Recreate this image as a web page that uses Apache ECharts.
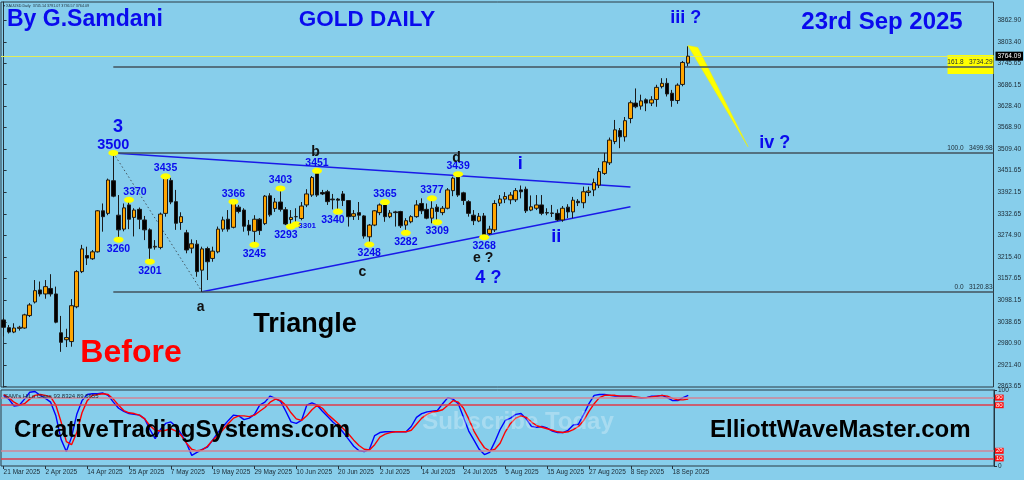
<!DOCTYPE html>
<html><head><meta charset="utf-8">
<script src="https://cdn.jsdelivr.net/npm/echarts@6/dist/echarts.min.js"></script>
<style>html,body{margin:0;padding:0;background:#87ceeb;overflow:hidden}#c{width:1024px;height:480px}</style>
</head><body><div id="c"></div>
<script>
// ---------- DATA ----------
const dates = ["21 Mar 2025","24 Mar 2025","25 Mar 2025","26 Mar 2025","27 Mar 2025","28 Mar 2025","31 Mar 2025",
"1 Apr 2025","2 Apr 2025","3 Apr 2025","4 Apr 2025","7 Apr 2025","8 Apr 2025","9 Apr 2025","10 Apr 2025","11 Apr 2025","14 Apr 2025","15 Apr 2025","16 Apr 2025","17 Apr 2025","21 Apr 2025","22 Apr 2025","23 Apr 2025","24 Apr 2025","25 Apr 2025","28 Apr 2025","29 Apr 2025","30 Apr 2025",
"1 May 2025","2 May 2025","5 May 2025","6 May 2025","7 May 2025","8 May 2025","9 May 2025","12 May 2025","13 May 2025","14 May 2025","15 May 2025","16 May 2025","19 May 2025","20 May 2025","21 May 2025","22 May 2025","23 May 2025","26 May 2025","27 May 2025","28 May 2025","29 May 2025","30 May 2025",
"2 Jun 2025","3 Jun 2025","4 Jun 2025","5 Jun 2025","6 Jun 2025","9 Jun 2025","10 Jun 2025","11 Jun 2025","12 Jun 2025","13 Jun 2025","16 Jun 2025","17 Jun 2025","18 Jun 2025","19 Jun 2025","20 Jun 2025","23 Jun 2025","24 Jun 2025","25 Jun 2025","26 Jun 2025","27 Jun 2025","30 Jun 2025",
"1 Jul 2025","2 Jul 2025","3 Jul 2025","4 Jul 2025","7 Jul 2025","8 Jul 2025","9 Jul 2025","10 Jul 2025","11 Jul 2025","14 Jul 2025","15 Jul 2025","16 Jul 2025","17 Jul 2025","18 Jul 2025","21 Jul 2025","22 Jul 2025","23 Jul 2025","24 Jul 2025","25 Jul 2025","28 Jul 2025","29 Jul 2025","30 Jul 2025","31 Jul 2025",
"1 Aug 2025","4 Aug 2025","5 Aug 2025","6 Aug 2025","7 Aug 2025","8 Aug 2025","11 Aug 2025","12 Aug 2025","13 Aug 2025","14 Aug 2025","15 Aug 2025","18 Aug 2025","19 Aug 2025","20 Aug 2025","21 Aug 2025","22 Aug 2025","25 Aug 2025","26 Aug 2025","27 Aug 2025","28 Aug 2025","29 Aug 2025",
"1 Sep 2025","2 Sep 2025","3 Sep 2025","4 Sep 2025","5 Sep 2025","8 Sep 2025","9 Sep 2025","10 Sep 2025","11 Sep 2025","12 Sep 2025","15 Sep 2025","16 Sep 2025","17 Sep 2025","18 Sep 2025","19 Sep 2025","22 Sep 2025","23 Sep 2025"];

// [open, close, low, high]
const ohlc = [
[3044,3024,2999,3049],[3023,3011,3007,3030],[3011,3022,3008,3035],[3021,3024,3015,3028],[3022,3058,3020,3061],
[3056,3085,3052,3090],[3093,3124,3089,3153],[3126,3115,3108,3149],[3115,3135,3102,3153],[3130,3115,3108,3169],
[3115,3038,3035,3135],[3009,2983,2957,3055],[2990,2996,2970,3020],[2985,3083,2971,3101],[3080,3176,3076,3180],
[3176,3238,3172,3249],[3220,3213,3194,3244],[3211,3230,3208,3235],[3230,3342,3228,3344],[3342,3326,3285,3362],
[3335,3426,3330,3430],[3424,3382,3379,3500],[3330,3290,3262,3385],[3292,3350,3286,3362],[3358,3319,3292,3370],
[3324,3344,3272,3349],[3346,3319,3292,3351],[3317,3290,3262,3328],[3290,3240,3203,3294],[3243,3245,3236,3262],
[3242,3333,3237,3337],[3335,3434,3326,3438],[3425,3366,3360,3432],[3367,3308,3290,3399],[3310,3326,3290,3338],
[3282,3235,3226,3290],[3240,3252,3226,3264],[3251,3176,3162,3262],[3180,3238,3121,3244],[3239,3203,3153,3244],
[3212,3232,3203,3244],[3230,3292,3226,3299],[3292,3317,3285,3326],[3319,3292,3285,3344],[3297,3362,3294,3367],
[3352,3340,3335,3358],[3344,3300,3285,3349],[3303,3288,3275,3317],[3286,3319,3248,3330],[3319,3288,3276,3322],
[3307,3382,3303,3385],[3383,3331,3326,3390],[3348,3366,3339,3377],[3366,3346,3340,3404],[3345,3306,3303,3352],
[3318,3324,3297,3344],[3326,3326,3303,3349],[3321,3355,3316,3366],[3358,3388,3352,3401],[3385,3433,3380,3437],
[3449,3385,3380,3452],[3392,3388,3385,3399],[3394,3367,3358,3399],[3374,3372,3346,3388],[3374,3371,3339,3377],
[3388,3370,3355,3396],[3370,3326,3299,3371],[3327,3334,3317,3344],[3337,3330,3317,3366],[3328,3273,3266,3330],
[3271,3303,3249,3306],[3303,3342,3300,3344],[3337,3358,3330,3362],[3364,3326,3312,3367],[3326,3336,3322,3344],
[3339,3337,3299,3342],[3340,3301,3295,3342],[3303,3315,3282,3322],[3312,3326,3308,3330],[3326,3358,3323,3371],
[3362,3342,3333,3376],[3346,3322,3319,3362],[3322,3349,3308,3377],[3352,3340,3310,3360],[3337,3349,3330,3355],
[3349,3399,3346,3404],[3397,3431,3382,3435],[3437,3385,3380,3442],[3391,3370,3358,3394],[3367,3335,3326,3371],
[3330,3315,3303,3344],[3314,3327,3311,3336],[3328,3276,3268,3336],[3280,3292,3276,3301],[3290,3362,3284,3371],
[3363,3374,3355,3385],[3374,3381,3363,3393],[3372,3385,3360,3393],[3372,3397,3366,3404],[3399,3394,3376,3411],
[3401,3342,3336,3408],[3344,3353,3341,3384],[3349,3358,3344,3385],[3358,3335,3330,3385],[3337,3336,3330,3349],
[3336,3335,3325,3358],[3335,3317,3314,3346],[3317,3349,3312,3355],[3352,3339,3322,3360],[3339,3371,3322,3380],
[3368,3364,3355,3374],[3364,3394,3349,3408],[3392,3396,3382,3408],[3399,3419,3382,3430],[3412,3449,3404,3459],
[3444,3476,3440,3500],[3473,3535,3467,3542],[3531,3563,3524,3590],[3561,3544,3513,3568],[3544,3588,3531,3598],
[3594,3637,3581,3643],[3636,3626,3622,3676],[3628,3642,3618,3659],[3645,3636,3614,3649],[3636,3645,3628,3655],
[3646,3679,3626,3686],[3681,3690,3676,3704],[3690,3661,3654,3704],[3663,3643,3626,3672],[3643,3685,3634,3690],
[3687,3747,3682,3751],[3745.14,3764.09,3736.57,3791.07]];

const hiloFast = [93,88,79,80,88,97,98,93,89,84, 66,35,19,38,68,86,94,95,95,96, 93,84,76,72,69,68,67,62,48,36,
48,56,58,52,42,30,14,18,22,25, 34,44,52,60,67,66,61,63,68,80, 84,92,89,85,72,58,56,60,80,83,
80,72,65,58,52,44,35,26,20,19, 22,40,44,45,45,45,45,45,52,64, 69,71,72,73,82,90,88,82,64,46,
34,22,15,18,32,48,60,63,68,69, 62,52,51,52,50,46,44,44,47,54, 55,68,82,93,94,94,93,92,92,92,
92,90,89,90,92,92,93,90,86,86, 90,93];
const hiloSlow = [94,90,84,80,82,88,93,94,93,91, 80,58,32,28,44,70,86,93,94,95, 94,88,80,73,70,69,67,62,53,47,
46,47,49,46,40,30,22,20,21,26, 34,40,48,56,63,66,66,65,67,72, 77,84,88,86,80,70,62,60,66,74,
80,76,68,62,56,49,42,34,27,22, 21,28,38,42,44,45,45,45,47,55, 63,68,71,72,74,80,86,84,76,62,
46,34,24,20,22,30,45,56,63,66, 64,58,53,51,49,47,45,44,45,48, 52,60,72,82,90,93,93,93,92,92,
92,91,90,90,91,92,93,92,89,87, 87,88];

const priceTicks = [3862.90,3803.40,3745.65,3686.15,3628.40,3568.90,3509.40,3451.65,3392.15,3332.65,
3274.90,3215.40,3157.65,3098.15,3038.65,2980.90,2921.40,2863.65];
const lastPrice = 3764.09;
const fibLevels = [["161.8", 3734.29], ["100.0", 3499.98], ["0.0", 3120.83]];
const fibStartBar = 21;
const oscLevels = [90, 80, 20, 10];
const oscHeader = "SAM's HiLo Class 93.8324 89.5655";

// [text, bar, price, placement]
const priceTags = [
["3500",21,3500,"up"],["3370",24,3372,"upr"],["3260",22,3263,"down"],["3201",28,3203,"down"],
["3435",31,3436,"up"],["3366",44,3367,"up"],["3245",48,3249,"down"],["3403",53,3403,"up"],
["3293",55,3299,"downl"],["3301",56,3305,"right"],["3451",60,3451,"up"],["3340",64,3340,"downl"],
["3365",73,3366,"up"],["3248",70,3250,"down"],["3282",77,3282,"down"],["3377",82,3376,"up"],
["3309",83,3311,"down"],["3439",87,3442,"up"],["3268",92,3270,"down"]];

// [text, bar, price, kind]
const waveLabels = [
["3",21.9,3571,"wave"],["b",59.7,3502,"sub"],["d",86.7,3486,"sub"],["c",68.7,3175,"sub"],["a",37.7,3079,"sub"],
["e ?",91.8,3213,"sub"],["4 ?",92.8,3158,"wave"],["i",98.9,3470,"wave"],["ii",105.8,3270,"wave"],
["iii ?",130.6,3868,"wave"],["iv ?",147.6,3527,"wave"]];

const triangleUpper = [[21,3500],[120,3407]];
const triangleLower = [[38,3120.83],[120,3353]];
const legA = [[21,3500],[38,3120.83]];
const projection = [[131,3793],[132.9,3788],[142.5,3517]];

const texts = {
  header: "\u25BE XAUUSD.Daily  3745.14 3791.07 3736.57 3764.09",
  author: "By G.Samdani", title: "GOLD DAILY", date: "23rd Sep 2025",
  pattern: "Triangle", before: "Before", subscribe: "Subscribe Today",
  site1: "CreativeTradingSystems.com", site2: "ElliottWaveMaster.com"
};

// ---------- CHART ----------
const SLOTS = 190;
const cats = dates.concat(new Array(SLOTS - dates.length).fill(''));
const FONT = '"Liberation Sans", Arial, Helvetica, sans-serif';
const BLUE = '#0a0aee';
const AXIS = '#25343e';
const tagOffset = {up:[0,-8], down:[0,9], upr:[6,-8], downl:[-5,9], right:[11,1]};
const waveStyle = { wave:{color:BLUE, fontSize:18}, sub:{color:'#111', fontSize:14} };

const chart = echarts.init(document.getElementById('c'), null, {renderer:'canvas'});

const fibMark = {
  silent:true, symbol:['none','none'],
  lineStyle:{color:'#42525c', width:1.5, type:'solid'},
  label:{show:true, position:'insideEndTop', distance:1, fontSize:6.5, fontFamily:FONT, color:'#1c2a34',
         formatter: p => p.data && p.data.txt ? p.data.txt : ''},
  data: fibLevels.map(f => [
    {coord:[fibStartBar, f[1]], txt: f[0] + '   ' + f[1].toFixed(2)},
    {coord:[SLOTS - 0.5, f[1]]}
  ])
};

const option = {
  animation:false,
  backgroundColor:'#87ceeb',
  textStyle:{fontFamily:FONT},
  grid:[
    {left:1, right:30, top:2, height:385, show:true, borderColor:'#2a3a44', borderWidth:1},
    {left:1, right:30, top:390, height:76, show:true, borderColor:'#2a3a44', borderWidth:1}
  ],
  xAxis:[
    {type:'category', gridIndex:0, data:cats, boundaryGap:true, axisLine:{show:false}, axisTick:{show:false}, axisLabel:{show:false}},
    {type:'value', gridIndex:0, min:-0.5, max:SLOTS-0.5, show:false},
    {type:'category', gridIndex:1, data:cats, boundaryGap:true,
      axisLine:{show:false},
      axisTick:{show:true, alignWithLabel:true, length:3, lineStyle:{color:AXIS},
        interval:(i)=> i % 8 === 0 && i < dates.length},
      axisLabel:{show:true, align:'left', margin:3, fontSize:6.5, color:'#1c2a34', fontFamily:FONT,
        interval:(i)=> i % 8 === 0 && i < dates.length}}
  ],
  yAxis:[
    {type:'value', gridIndex:0, position:'right', min:2861, max:3912, splitLine:{show:false},
      axisLine:{show:true, lineStyle:{color:AXIS}},
      axisTick:{show:true, length:3, customValues:priceTicks, lineStyle:{color:AXIS}},
      axisLabel:{show:true, customValues:priceTicks, formatter:v=>v.toFixed(2), fontSize:6.5, color:'#1c2a34', margin:4, fontFamily:FONT}},
    {type:'value', gridIndex:1, position:'right', min:0, max:100, splitLine:{show:false},
      axisLine:{show:true, lineStyle:{color:AXIS}},
      axisTick:{show:true, length:3, customValues:[0,100], lineStyle:{color:AXIS}},
      axisLabel:{show:true, customValues:[0,100], fontSize:6.5, color:'#1c2a34', margin:4, fontFamily:FONT}}
  ],
  series:[
    {type:'line', xAxisIndex:1, yAxisIndex:0, data:[], silent:true, z:1,
      markLine:fibMark,
      markArea:{silent:true, itemStyle:{color:'#ffff00', opacity:1},
        data:[[{coord:[180.7, 3767.5]},{coord:[SLOTS-0.5, 3715.5]}]]}},
    {type:'line', xAxisIndex:0, yAxisIndex:0, data:[], silent:true, z:2,
      markLine:{silent:true, symbol:['none','none'], lineStyle:{color:'#e2ec5a', width:1, type:'solid'},
        label:{show:true, position:'end', distance:2, formatter:lastPrice.toFixed(2), backgroundColor:'#000',
               color:'#fff', fontSize:6.5, padding:[1,2], fontFamily:FONT},
        data:[{yAxis:lastPrice}]}},
    {type:'line', xAxisIndex:1, yAxisIndex:0, data:triangleUpper, showSymbol:false, silent:true, z:3,
      lineStyle:{color:'#1a1ae8', width:1.5}},
    {type:'line', xAxisIndex:1, yAxisIndex:0, data:triangleLower, showSymbol:false, silent:true, z:3,
      lineStyle:{color:'#1a1ae8', width:1.5}},
    {type:'line', xAxisIndex:1, yAxisIndex:0, data:legA, showSymbol:false, silent:true, z:3,
      lineStyle:{color:'#44545e', width:1, type:[1.5,2.5]}},
    {type:'custom', xAxisIndex:1, yAxisIndex:0, silent:true, z:4, data:[projection[0]],
      renderItem:(params, api)=>({type:'polygon', shape:{points:projection.map(p=>api.coord(p))},
        style:{fill:'#ffff00', stroke:'#f0f000', lineWidth:0.5}})},
    {type:'candlestick', xAxisIndex:0, yAxisIndex:0, data:ohlc, barWidth:4, z:5,
      itemStyle:{color:'#ffa500', color0:'#000000', borderColor:'#1a1a1a', borderColor0:'#1a1a1a', borderWidth:1}},
    {type:'scatter', xAxisIndex:1, yAxisIndex:0, z:6, symbol:'circle', symbolSize:[10,6], silent:true,
      itemStyle:{color:'#ffff00', opacity:1},
      data: priceTags.map(t=>({value:[t[1],t[2]],
        label:{show:true, position:'inside', offset:tagOffset[t[3]], formatter:t[0], opacity:1,
          fontSize: t[0]==='3500'?14.5:(t[3]==='right'?8:10.5), fontWeight:'bold', color:BLUE, fontFamily:FONT}}))},
    {type:'scatter', xAxisIndex:1, yAxisIndex:0, z:6, symbolSize:1, silent:true,
      itemStyle:{color:'rgba(0,0,0,0)', opacity:1},
      data: waveLabels.map(w=>({value:[w[1],w[2]],
        label:{show:true, position:'inside', formatter:w[0], fontWeight:'bold', fontFamily:FONT, opacity:1,
          color:waveStyle[w[3]].color, fontSize:waveStyle[w[3]].fontSize}}))},
    {type:'line', xAxisIndex:2, yAxisIndex:1, data:hiloFast, showSymbol:false, silent:true, z:3,
      lineStyle:{color:'#0000ff', width:1.4},
      markLine:{silent:true, symbol:['none','none'],
        data: oscLevels.map(v=>({yAxis:v, lineStyle:{color:(v===90||v===20)?'#d08496':'#e03a48', width:1.5, type:'solid'}})),
        label:{show:true, position:'end', distance:1, fontSize:6, color:'#ffffff', backgroundColor:'#ff1010',
          padding:[0,1], fontFamily:FONT, formatter:p=>String(p.value)}}},
    {type:'line', xAxisIndex:2, yAxisIndex:1, data:hiloSlow, showSymbol:false, silent:true, z:3,
      lineStyle:{color:'#ff0000', width:1.4}}
  ],
  graphic:[
    {type:'text', x:3, y:6, z:10, style:{text:texts.header, font:'3.7px '+FONT, fill:'#1c2a34', textVerticalAlign:'middle'}},
    {type:'text', x:7, y:20, z:10, style:{text:texts.author, font:'bold 23px '+FONT, fill:BLUE, textVerticalAlign:'middle'}},
    {type:'text', x:367, y:20, z:10, style:{text:texts.title, font:'bold 22.5px '+FONT, fill:BLUE, textAlign:'center', textVerticalAlign:'middle'}},
    {type:'text', x:882, y:22, z:10, style:{text:texts.date, font:'bold 24px '+FONT, fill:BLUE, textAlign:'center', textVerticalAlign:'middle'}},
    {type:'text', x:305, y:325, z:10, style:{text:texts.pattern, font:'bold 27px '+FONT, fill:'#000', textAlign:'center', textVerticalAlign:'middle'}},
    {type:'text', x:131, y:353, z:10, style:{text:texts.before, font:'bold 32px '+FONT, fill:'#ff0000', textAlign:'center', textVerticalAlign:'middle'}},
    {type:'text', x:4, y:396, z:10, style:{text:oscHeader, font:'6px '+FONT, fill:'#1c2a34', textVerticalAlign:'middle'}},
    {type:'text', x:518, y:422, z:10, style:{text:texts.subscribe, font:'bold 24px '+FONT, fill:'rgba(255,255,255,0.28)', textAlign:'center', textVerticalAlign:'middle'}},
    {type:'text', x:14, y:430, z:10, style:{text:texts.site1, font:'bold 24px '+FONT, fill:'#000', textVerticalAlign:'middle'}},
    {type:'text', x:710, y:430, z:10, style:{text:texts.site2, font:'bold 24px '+FONT, fill:'#000', textVerticalAlign:'middle'}}
  ]
};
chart.setOption(option);
</script>
</body></html>
